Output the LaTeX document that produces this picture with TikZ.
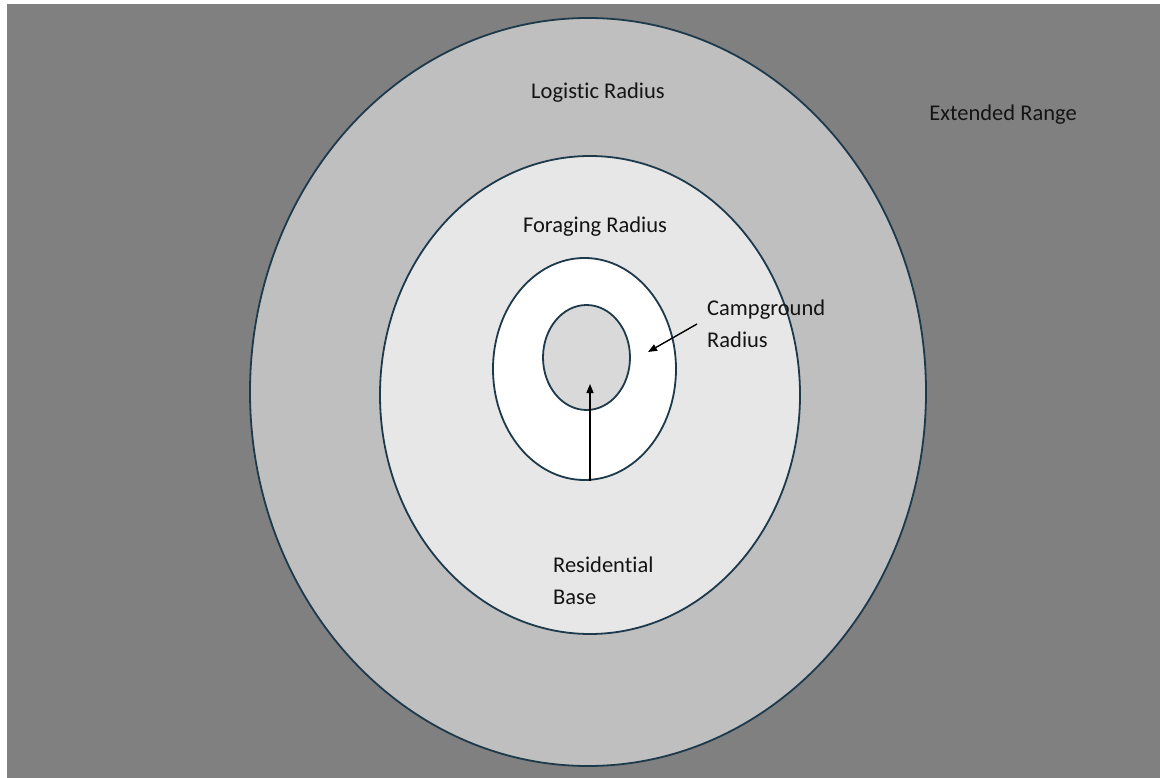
\documentclass[tikz,border=0pt]{standalone}
\usepackage{fontspec}
\setmainfont{Carlito}[Ligatures=NoCommon]
\usetikzlibrary{arrows.meta}
\definecolor{bggray}{HTML}{808080}
\definecolor{logfill}{HTML}{BFBFBF}
\definecolor{forfill}{HTML}{E7E7E7}
\definecolor{resfill}{HTML}{D9D9D9}
\definecolor{ringline}{HTML}{1C3A4C}
\tikzset{
  ring/.style={draw=ringline, line width=1.8pt},
  lbl/.style={font=\fontsize{22.5}{32}\selectfont, text=black!92, inner sep=0pt},
  pointer/.style={line width=1.4pt, -{Triangle[length=9pt,width=7pt]}}
}
\begin{document}
\begin{tikzpicture}[x=1pt,y=-1pt]
\useasboundingbox (0,0) rectangle (1160,778);
\fill[white] (0,0) rectangle (1160,778);
\fill[bggray] (7,4) rectangle (1160,778);
\draw[ring, fill=logfill] (588,392) ellipse [x radius=338, y radius=374];
\draw[ring, fill=forfill] (590,395) ellipse [x radius=210, y radius=239];
\draw[ring, fill=white] (584.5,369) ellipse [x radius=91.5, y radius=111];
\draw[ring, fill=resfill] (586.5,357.5) ellipse [x radius=43.5, y radius=52.5];
\node[lbl] (logistic) at (598,93) {Logistic Radius};
\node[lbl] (extended) at (1003,115) {Extended Range};
\node[lbl] (foraging) at (595,227) {Foraging Radius};
\node[lbl, align=left, anchor=west] (camp) at (707,324) {Campground\\Radius};
\node[lbl, align=left, anchor=west] (resid) at (553,581) {Residential\\Base};
\coordinate (campfrom) at (697,324);
\coordinate (campto) at (648,352);
\coordinate (residfrom) at (590,481);
\coordinate (residto) at (590,384);
\draw[pointer] (campfrom) -- (campto);
\draw[pointer] (residfrom) -- (residto);
\end{tikzpicture}
\end{document}
